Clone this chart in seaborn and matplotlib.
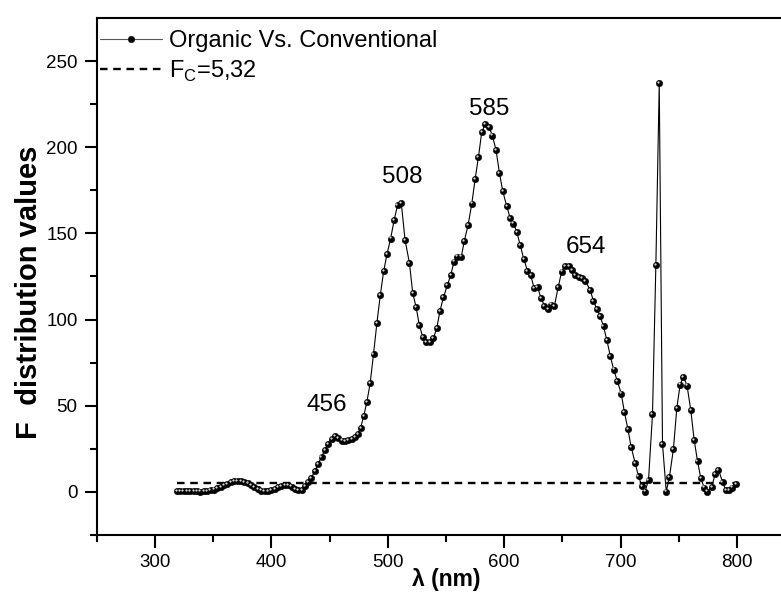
import matplotlib
matplotlib.use("Agg")
import matplotlib.pyplot as plt
import numpy as np
import pandas as pd
import seaborn as sns
from matplotlib.ticker import MultipleLocator, FixedLocator
from matplotlib.transforms import ScaledTranslation

# ---------------- data ----------------
wavelength = [
    318.6, 321.5, 324.4, 327.3, 330.2, 333.1, 336.0, 338.9, 341.8, 344.7,
    347.6, 350.5, 353.4, 356.3, 359.2, 362.1, 365.0, 367.9, 370.8, 373.7,
    376.6, 379.5, 382.4, 385.3, 388.2, 391.1, 394.0, 396.9, 399.8, 402.7,
    405.6, 408.5, 411.4, 414.3, 417.2, 420.1, 423.0,
    425.9, 428.6, 431.2, 434.3, 437.2, 440.1, 443.0, 445.9, 448.8, 451.7,
    454.6, 457.5, 460.4, 463.2, 466.1, 469.0, 471.8, 474.2, 476.6, 479.2,
    481.9, 484.8, 487.7, 490.6, 493.5, 496.4, 499.3, 502.4, 505.5, 508.4,
    511.6, 514.8, 518.6, 521.4, 524.3, 527.1, 530.0, 532.9, 536.3, 539.2,
    542.0, 544.9, 547.8, 551.2, 554.1, 557.0, 559.8, 563.2, 565.8, 569.0,
    572.2, 575.0, 577.9, 580.7, 583.6, 587.2, 589.8, 593.0, 595.9, 598.8,
    602.2, 605.1, 607.9, 610.8, 613.7, 616.8, 620.0, 622.9, 625.7, 628.7,
    631.6, 634.6, 637.5, 640.4, 643.2, 646.5, 649.4, 652.3, 655.4, 658.3,
    661.2, 664.2, 667.0, 669.9, 673.9, 676.7, 679.6, 682.5, 685.4, 688.3,
    691.2, 694.1, 697.2, 700.6, 703.4, 706.3, 709.2, 712.6, 715.5, 718.4,
    721.2, 724.1, 727.5, 730.4, 733.3, 736.1, 739.3, 742.1, 745.5, 748.4,
    751.3, 754.1, 757.2, 760.4, 763.3, 766.2, 769.0, 771.9, 774.7, 778.5,
    781.4, 784.2, 787.7, 790.5, 793.4, 796.2, 799.1,
]
f_values = [
    0.5, 0.5, 0.5, 0.5, 0.4, 0.3, 0.3, 0.2, 0.3, 0.5,
    0.9, 1.4, 2.1, 2.9, 3.8, 4.7, 5.5, 6.1, 6.4, 6.3,
    5.8, 4.9, 3.8, 2.6, 1.6, 0.8, 0.4, 0.5, 1.0, 1.8,
    2.7, 3.5, 3.9, 3.8, 3.1, 1.9, 0.9,
    1.0, 3.3, 5.8, 8.3, 12.1, 16.4, 20.2, 24.5, 27.9, 30.8,
    32.3, 31.4, 29.8, 29.4, 30.2, 30.8, 31.7, 33.7, 37.2, 43.9,
    51.9, 63.0, 80.0, 98.0, 114.0, 128.0, 138.0, 147.0, 158.0, 166.5,
    167.5, 146.2, 132.7, 115.4, 107.3, 96.6, 90.0, 87.1, 87.1, 89.1,
    94.9, 105.2, 112.9, 119.9, 126.0, 133.7, 136.6, 136.6, 145.8, 154.9,
    167.3, 181.4, 194.3, 208.7, 213.3, 211.5, 206.8, 198.5, 185.2, 174.5,
    165.8, 159.1, 155.7, 151.0, 143.3, 135.3, 128.4, 125.6, 118.3, 119.0,
    112.5, 108.1, 106.2, 108.7, 108.1, 118.9, 127.9, 131.2, 131.3, 128.9,
    125.8, 124.6, 124.0, 122.5, 117.0, 111.0, 106.0, 102.0, 96.0, 88.0,
    79.0, 71.0, 64.5, 57.1, 46.2, 36.6, 26.0, 16.7, 9.1, 3.3,
    0.2, 7.1, 45.0, 131.7, 237.0, 27.9, 0.2, 8.7, 25.0, 48.6,
    62.3, 66.9, 61.7, 47.5, 30.2, 17.9, 8.1, 2.5, 0.2, 2.9,
    10.6, 12.9, 5.8, 1.0, 1.0, 2.5, 4.8,
]
fc_value = 5.32
fc_x = [318.6, 799.1]

series_label = "Organic Vs. Conventional"
fc_label = r"F$_\mathregular{C}$=5,32"

peak_labels = ["456", "508", "585", "654"]
peak_x = [447.8, 512.0, 587.0, 670.5]
peak_y = [50.6, 183.0, 222.0, 142.0]

# ---------------- style ----------------
sns.set_theme(style="ticks")
plt.rcParams["font.family"] = ["Liberation Sans", "DejaVu Sans"]
plt.rcParams["mathtext.fontset"] = "custom"
plt.rcParams["mathtext.rm"] = "Liberation Sans"
plt.rcParams["axes.linewidth"] = 1.5

fig = plt.figure(figsize=(7.81, 6.0), dpi=100)
ax = fig.add_axes([97 / 781, 65 / 600, (795 - 97) / 781, 517 / 600])

df = pd.DataFrame({"wavelength": wavelength, "F": f_values})

sns.lineplot(data=df, x="wavelength", y="F", ax=ax, sort=False, estimator=None,
             color="black", linewidth=0.8, marker="o", markersize=4.6,
             markerfacecolor="black", markeredgecolor="black",
             markeredgewidth=0.4, label=series_label)

# sphere highlight
hl = ax.transData + ScaledTranslation(-0.8 / 72, 0.8 / 72, fig.dpi_scale_trans)
ax.plot(df["wavelength"], df["F"], "o", ms=1.6, color="#d8d8d8", mew=0,
        transform=hl, label="_nolegend_", zorder=5)

ax.plot(fc_x, [fc_value, fc_value], color="black", linewidth=1.7,
        linestyle=(0, (3.2, 2.4)), label=fc_label)

for lab, px, py in zip(peak_labels, peak_x, peak_y):
    ax.text(px, py, lab, ha="center", va="center", fontsize=17.5, color="black")

ax.set_xlim(250, 850)
ax.set_ylim(-25, 275)

ax.xaxis.set_major_locator(MultipleLocator(100))
ax.xaxis.set_minor_locator(MultipleLocator(50))
ax.yaxis.set_major_locator(MultipleLocator(50))
ax.yaxis.set_minor_locator(FixedLocator([-25, 25, 75, 125, 175, 225]))

ax.tick_params(which="major", direction="out", length=9, width=1.5,
               labelsize=13.5, pad=5, color="black", labelcolor="black")
ax.tick_params(which="minor", direction="out", length=5, width=1.5, color="black")
ax.tick_params(top=False, right=False, which="both")

for s in ["left", "bottom", "top"]:
    ax.spines[s].set_color("black")
    ax.spines[s].set_linewidth(1.5)
ax.spines["right"].set_visible(False)

ax.set_xlabel("λ (nm)", fontsize=16.5, fontweight="bold", color="black")
ax.set_ylabel("F  distribution values", fontsize=21, fontweight="bold", color="black")
ax.xaxis.set_label_coords(0.5, -0.064)
ax.yaxis.set_label_coords(-0.078, 0.47)

leg = ax.legend(loc="upper left", bbox_to_anchor=(-0.002, 0.985), frameon=False,
                fontsize=17, handlelength=2.6, handletextpad=0.3,
                borderaxespad=0.1, borderpad=0.1, labelspacing=0.25)
for t in leg.get_texts():
    t.set_color("black")
leg.get_lines()[0].set_color("#555555")
leg.get_lines()[0].set_linewidth(0.8)

fig.savefig("out.png", dpi=100, facecolor="white")
